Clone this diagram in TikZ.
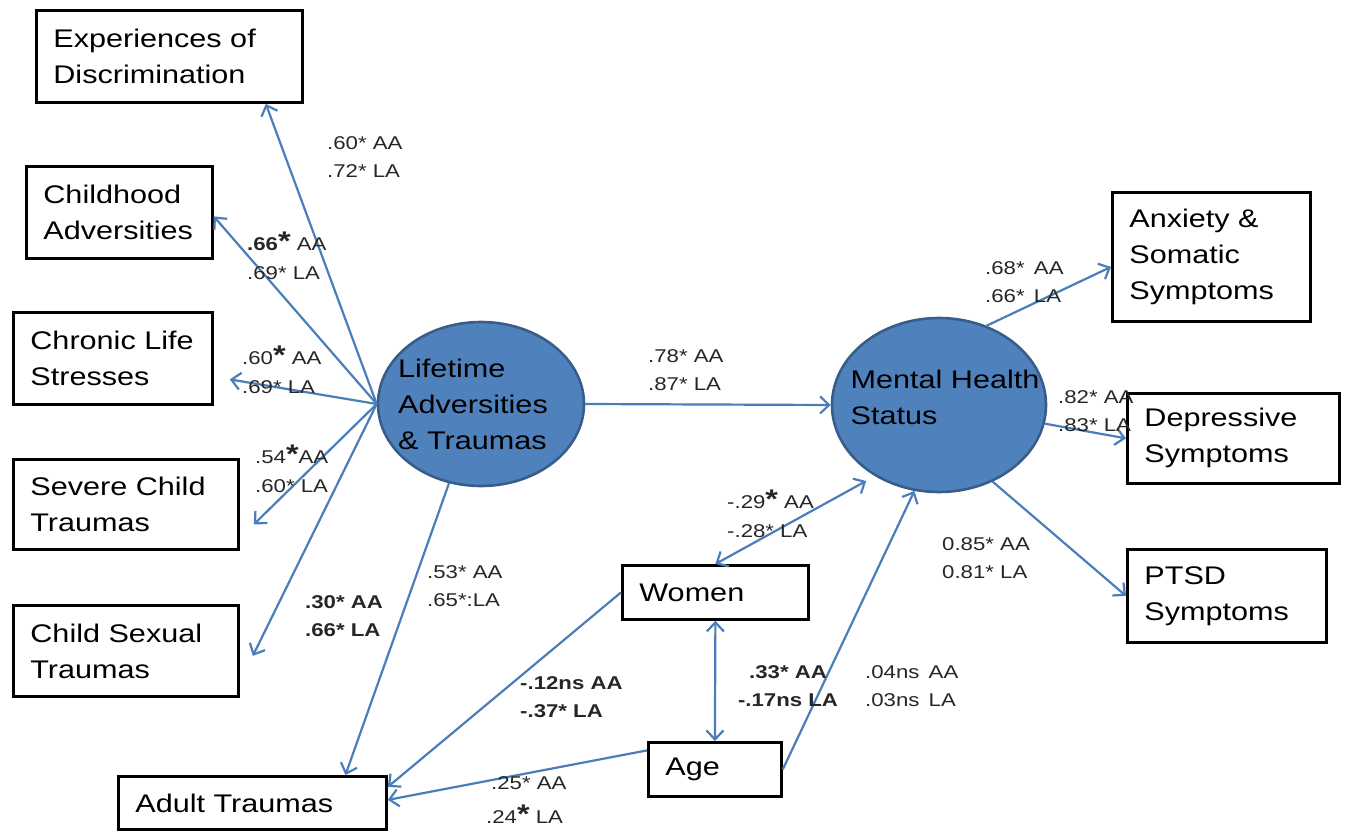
\documentclass[tikz,border=0pt]{standalone}
\usepackage{fontspec}
\setmainfont{Liberation Sans}[FakeStretch=1.2]
\usetikzlibrary{arrows.meta,shapes.geometric}

\definecolor{pathblue}{RGB}{74,126,187}
\definecolor{blobfill}{RGB}{79,129,189}
\definecolor{blobline}{RGB}{56,93,138}

\newcommand{\boxfont}{\fontsize{25.5}{36}\selectfont}
\newcommand{\coeffont}{\fontsize{18.5}{28.5}\selectfont}
\newcommand{\bigast}{{\fontsize{27}{27}\selectfont\bfseries *}}

\begin{document}
\begin{tikzpicture}[x=1pt, y=-1pt,
    measure/.style={draw, line width=2.8pt, font=\boxfont, align=left, anchor=north west, inner xsep=17pt, inner ysep=0pt},
    latent/.style={ellipse, draw=blobline, fill=blobfill, line width=2.6pt, inner sep=0pt},
    inside/.style={font=\boxfont, align=left, inner sep=0pt},
    coef/.style={font=\coeffont, text=black!85, align=left, anchor=west, inner sep=0pt},
    effect/.style={draw=pathblue, line width=2.2pt, -{Straight Barb[length=9pt,width=17pt]}},
    twoway/.style={effect, {Straight Barb[length=9pt,width=17pt]}-{Straight Barb[length=9pt,width=17pt]}}]
    \useasboundingbox (0,0) rectangle (1346,832);

    % Indicators of lifetime adversities
    \node[measure, text width=232pt, minimum height=92pt] (exp) at (35,9) {Experiences of\\Discrimination};
    \node[measure, text width=152pt, minimum height=92pt] (chi) at (25,165) {Childhood\\Adversities};
    \node[measure, text width=165pt, minimum height=92pt] (chr) at (12,311) {Chronic Life\\Stresses};
    \node[measure, text width=191pt, minimum height=90pt] (sev) at (12,458) {Severe Child\\Traumas};
    \node[measure, text width=191pt, minimum height=91pt] (csx) at (12,604) {Child Sexual\\Traumas};
    \node[measure, text width=234pt, minimum height=53pt] (adu) at (117,775) {Adult Traumas};

    % Covariates
    \node[measure, text width=152pt, minimum height=54pt] (wom) at (621,564) {Women};
    \node[measure, text width=99pt, minimum height=54pt] (age) at (647,741) {Age};

    % Indicators of mental health
    \node[measure, text width=164pt, minimum height=129pt] (anx) at (1111,191) {Anxiety \&\\Somatic\\Symptoms};
    \node[measure, text width=178pt, minimum height=90pt] (dep) at (1126,392) {Depressive\\Symptoms};
    \node[measure, text width=165pt, minimum height=93pt] (pts) at (1126,548) {PTSD\\Symptoms};

    % Latent factors
    \node[latent, minimum width=206pt, minimum height=164pt,
          label={[inside, xshift=-8pt]center:Lifetime\\Adversities\\\& Traumas}] (lat) at (481,404) {};
    \node[latent, minimum width=214pt, minimum height=174pt,
          label={[inside, xshift=6pt, yshift=8pt]center:Mental Health\\Status}] (mhs) at (939,405) {};

    % Paths
    \draw[effect] (lat.west) -- ([xshift=-38pt]exp.south east);
    \draw[effect] (lat.west) -- ([yshift=-4pt]chi.east);
    \draw[effect] (lat.west) -- ([xshift=16pt,yshift=-21pt]chr.east);
    \draw[effect] (lat.west) -- ([xshift=14pt,yshift=-20pt]sev.east);
    \draw[effect] (lat.west) -- ([xshift=13pt,yshift=-5pt]csx.east);
    \draw[effect] (lat.248) -- ([xshift=93pt]adu.north);
    \draw[effect] (lat.east) -- (mhs.west);
    \draw[effect] (mhs.59) -- ([yshift=-10pt]anx.west);
    \draw[effect] (mhs.350) -- (dep.west);
    \draw[effect] (mhs.305) -- (pts.west);
    \draw[twoway, shorten >=10pt] (wom.north) -- (mhs.228);
    \draw[twoway] (wom.south) -- (age.north);
    \draw[effect] (age.east) -- (mhs.254);
    \draw[effect] (wom.west) -- ([yshift=16pt]adu.east);
    \draw[effect] ([yshift=19pt]age.west) -- ([yshift=3pt]adu.east);

    % Coefficients
    \node[coef] (c-exp) at (327,157) {.60* AA\\.72* LA};
    \node[coef] (c-chi) at (247,256) {{\bfseries .66}\bigast\ AA\\.69* LA};
    \node[coef] (c-chr) at (242,370) {.60\bigast\ AA\\.69* LA};
    \node[coef] (c-sev) at (255,469) {.54\bigast AA\\.60* LA};
    \node[coef, font=\coeffont\bfseries] (c-csx) at (305,616) {.30* AA\\.66* LA};
    \node[coef] (c-adu) at (427,586) {.53* AA\\.65*:LA};
    \node[coef, font=\coeffont\bfseries] (c-wad) at (520,697) {-.12ns AA\\-.37* LA};
    \node[coef] (c-mhs) at (648,370) {.78* AA\\.87* LA};
    \node[coef] (c-anx) at (985,282) {.68*\enspace AA\\.66*\enspace LA};
    \node[coef] (c-dep) at (1058,411) {.82* AA\\.83* LA};
    \node[coef] (c-pts) at (942,558) {0.85* AA\\0.81* LA};
    \node[coef] (c-wom) at (727,514) {-.29\bigast\ AA\\-.28* LA};
    \node[coef, font=\coeffont\bfseries, align=center, anchor=center] (c-wag) at (788,686) {.33* AA\\-.17ns LA};
    \node[coef] (c-age) at (865,686) {.04ns\enspace AA\\.03ns\enspace LA};
    \node[coef] (c-aad) at (486,800) {\hspace{5pt}.25* AA\\[6pt].24\bigast\ LA};
\end{tikzpicture}
\end{document}
